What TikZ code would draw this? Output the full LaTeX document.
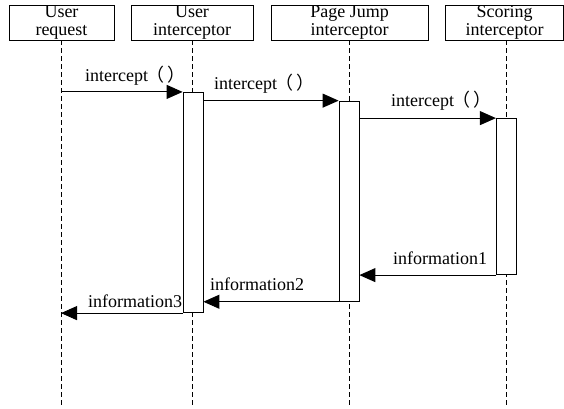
\documentclass[tikz,border=0pt]{standalone}
\usepackage{fontspec}
\setmainfont{Liberation Serif}
\newfontfamily\cjkfont{Noto Sans CJK SC}
\usetikzlibrary{arrows.meta}
% call label: method name followed by full-width parentheses
\newcommand{\callname}{intercept{\cjkfont\hspace{-2pt}（\hspace{3.5pt}）}}
\begin{document}
\begin{tikzpicture}[x=1pt,y=-1pt,
  every node/.style={font=\fontsize{18}{18}\selectfont},
  head/.style={draw, line width=0.8pt, minimum height=35pt, inner sep=0pt, align=center},
  act/.style={draw, fill=white, line width=0.8pt, minimum width=20pt, inner sep=0pt},
  life/.style={line width=0.8pt, dash pattern=on 5pt off 3pt},
  msg/.style={line width=0.9pt, -{Triangle[length=16pt,width=14pt]}},
  lbl/.style={inner sep=0pt, anchor=base west}]
\useasboundingbox (0,0) rectangle (564,408);

% participants
\node[head, minimum width=105pt] (h1) at (61.5,22.5) {User\\request};
\node[head, minimum width=122pt] (h2) at (192,22.5) {User\\interceptor};
\node[head, minimum width=157pt] (h3) at (349.5,22.5) {Page Jump\\interceptor};
\node[head, minimum width=118pt] (h4) at (504.5,22.5) {Scoring\\interceptor};

% lifelines
\coordinate (b1) at (61,408);
\coordinate (b2) at (192,408);
\coordinate (b3) at (349.5,408);
\coordinate (b4) at (506.5,408);
\draw[life] (b1 |- h1.south) -- (b1);
\draw[life] (b2 |- h2.south) -- (b2);
\draw[life] (b3 |- h3.south) -- (b3);
\draw[life] (b4 |- h4.south) -- (b4);

% activation bars
\node[act, minimum height=220.4pt] (a2) at (193,202.5) {};
\node[act, minimum height=200.3pt] (a3) at (349,201.2) {};
\node[act, minimum height=156.2pt] (a4) at (506.3,196.6) {};

% calls
\coordinate (s1) at (b1 |- a2.north);
\draw[msg] (s1) -- (a2.north west);
\draw[msg] (a2.east |- a3.north) -- (a3.north west);
\draw[msg] (a3.east |- a4.north) -- (a4.north west);

% returns
\coordinate (e3) at (b1 |- a2.south);
\draw[msg] (a4.south west) -- (a3.east |- a4.south);
\draw[msg] (a3.south west) -- (a2.east |- a3.south);
\draw[msg] (a2.south west) -- (e3);

% message labels
\node[lbl] (t1) at (85,81.7) {\callname};
\node[lbl] (t2) at (214,89) {\callname};
\node[lbl] (t3) at (391,106.7) {\callname};
\node[lbl] (i1) at (393,264) {information1};
\node[lbl] (i2) at (210,290) {information2};
\node[lbl] (i3) at (88,307) {information3};
\end{tikzpicture}
\end{document}
